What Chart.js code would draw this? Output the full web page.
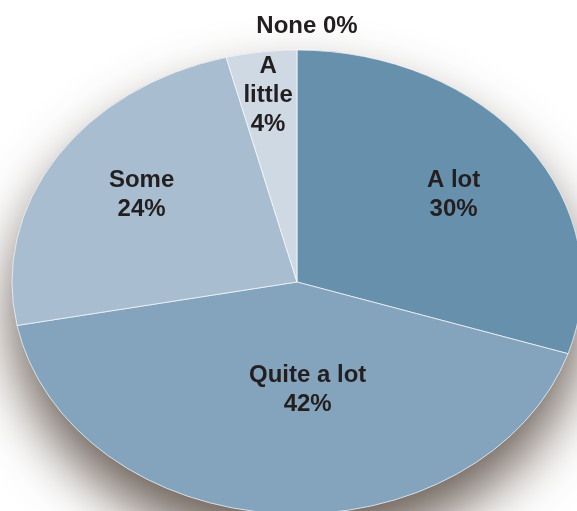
<!DOCTYPE html>
<html>
<head>
<meta charset="utf-8">
<script src="https://cdn.jsdelivr.net/npm/chart.js@4.4.1/dist/chart.umd.min.js"></script>
<style>
  html, body { margin: 0; padding: 0; background: #fff; overflow: hidden; }
  #wrap { width: 577px; height: 511px; position: relative; }
</style>
</head>
<body>
<div id="wrap"><canvas id="pie"></canvas></div>
<script>
const categories = ['A lot', 'Quite a lot', 'Some', 'A little', 'None'];
const shares = [30, 42, 24, 4, 0];
const sliceColors = ['#6790ad', '#84a4bd', '#a8bdcf', '#cfd9e3', '#e4eaf0'];

// how each label wraps: name over value, one word per line, or all on one line
const labelWrap = ['stack', 'stack', 'stack', 'words', 'inline'];
// label anchor as a fraction of the radius, plus a small sideways nudge
const labelRadius = [0.64, 0.465, 0.70, 0.81, 1.10];
const labelShiftX = [9, 19, 13, 0, 10];

const PIE_R = 285;     // horizontal radius
const SQUASH = 0.814;  // vertical/horizontal ratio of the tilted pie
const CENTER_Y = 282;

function labelLines(i) {
  const name = categories[i];
  const pct = shares[i] + '%';
  if (labelWrap[i] === 'inline') return [name + ' ' + pct];
  if (labelWrap[i] === 'words') return name.split(' ').concat([pct]);
  return [name, pct];
}

// squash the round pie into an ellipse and put a soft shadow under it
const tiltPlugin = {
  id: 'tilt',
  beforeDatasetsDraw(chart) {
    const ctx = chart.ctx;
    const arc = chart.getDatasetMeta(0).data[0];
    ctx.save();
    ctx.save();
    ctx.shadowColor = 'rgba(70, 55, 45, 0.8)';
    ctx.shadowBlur = 55;
    ctx.shadowOffsetY = 32;
    ctx.fillStyle = '#8aa8be';
    ctx.beginPath();
    ctx.ellipse(arc.x, CENTER_Y, PIE_R, PIE_R * SQUASH, 0, 0, Math.PI * 2);
    ctx.fill();
    ctx.restore();
    ctx.translate(0, CENTER_Y);
    ctx.scale(1, SQUASH);
    ctx.translate(0, -arc.y);
  },
  afterDatasetsDraw(chart) {
    const ctx = chart.ctx;
    ctx.restore();

    const arcs = chart.getDatasetMeta(0).data;
    ctx.save();
    ctx.font = 'bold 24px "Liberation Sans", Arial, sans-serif';
    ctx.fillStyle = '#231f20';
    ctx.textAlign = 'center';
    ctx.textBaseline = 'middle';
    const lineH = 29;
    arcs.forEach((a, i) => {
      const p = a.getProps(['x', 'startAngle', 'endAngle', 'outerRadius'], true);
      const mid = (p.startAngle + p.endAngle) / 2;
      const r = p.outerRadius * labelRadius[i];
      const x = p.x + Math.cos(mid) * r + labelShiftX[i];
      const y = CENTER_Y + Math.sin(mid) * r * SQUASH;
      const lines = labelLines(i);
      const top = y - (lines.length - 1) * lineH / 2;
      lines.forEach((t, j) => ctx.fillText(t, x, top + j * lineH));
    });
    ctx.restore();
  }
};

const ctx = document.getElementById('pie').getContext('2d');
new Chart(ctx, {
  type: 'pie',
  data: {
    labels: categories,
    datasets: [{
      data: shares,
      backgroundColor: sliceColors,
      borderColor: 'rgba(255,255,255,0.75)',
      borderWidth: 1,
      radius: PIE_R,
      clip: false
    }]
  },
  options: {
    responsive: true,
    maintainAspectRatio: false,
    animation: false,
    events: [],
    layout: { padding: { left: 17, right: 0, top: 0, bottom: 0 } },
    plugins: {
      legend: { display: false },
      tooltip: { enabled: false }
    }
  },
  plugins: [tiltPlugin]
});
</script>
</body>
</html>
